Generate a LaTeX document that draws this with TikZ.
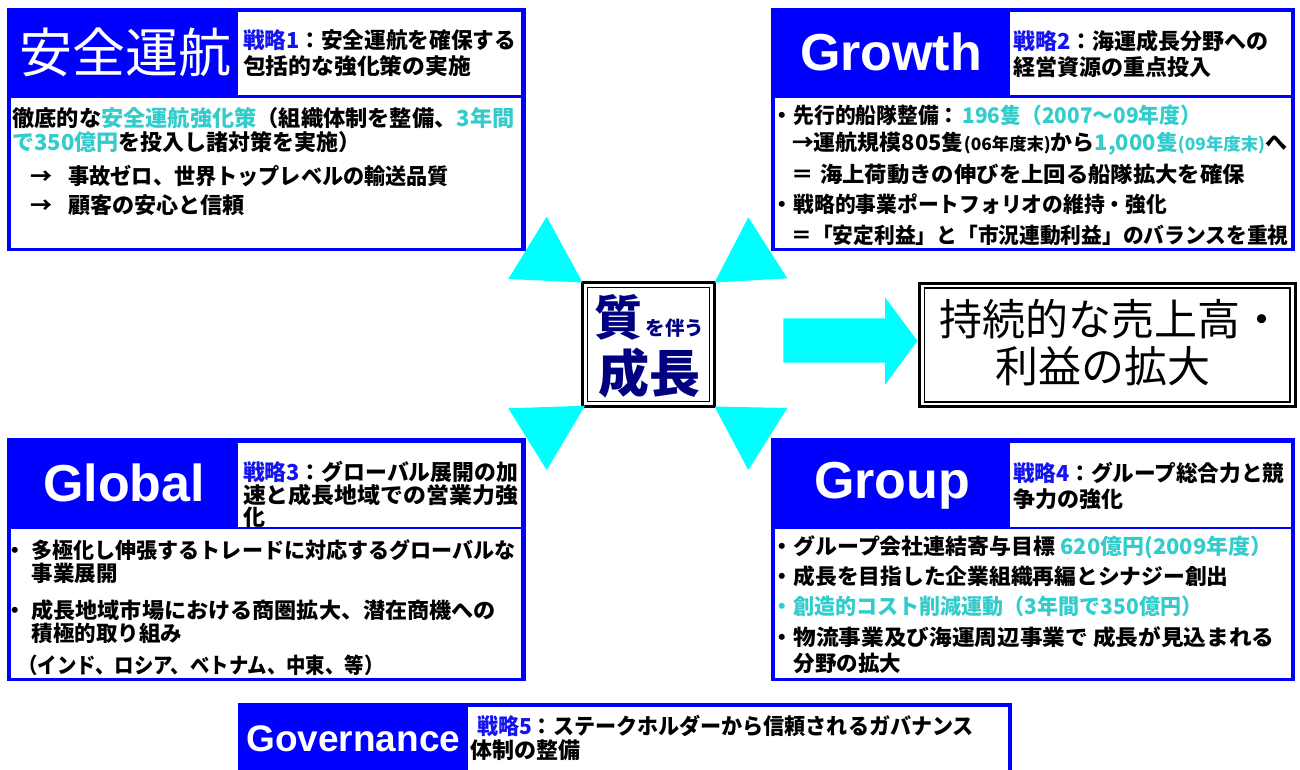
\documentclass[tikz,border=0pt]{standalone}
\usepackage{fontspec}
\usepackage{graphicx}
\setmainfont{Noto Sans CJK JP}
\newfontfamily\arialf{Liberation Sans}
\newcommand\fs[1]{\fontsize{#1bp}{#1bp}\selectfont}
\newcommand\fw[2]{\resizebox{#1bp}{\height}{#2}}
\definecolor{mblue}{RGB}{0,0,255}
\definecolor{cyt}{RGB}{51,204,204}
\definecolor{slbl}{RGB}{20,20,240}
\definecolor{navyt}{RGB}{0,0,128}
\definecolor{tricol}{RGB}{0,255,255}
\newcommand\cy[1]{{\color{cyt}#1}}
\newcommand\slb[1]{{\color{slbl}#1}}
\begin{document}
\begin{tikzpicture}[x=1bp,y=-1bp,
  panel/.style={inner sep=0pt,outer sep=0pt,anchor=north west,draw=none},
  bluepanel/.style={panel,fill=mblue},
  whitepanel/.style={panel,fill=white},
  txt/.style={inner sep=0pt,outer sep=0pt,anchor=base west,font=\bfseries\fs{21.5},text height=17bp,text depth=3bp},
  stxt/.style={txt,font=\bfseries\fs{22}},
  sblock/.style={inner sep=0pt,outer sep=0pt,anchor=north west,align=left,font=\bfseries\fontsize{22bp}{26bp}\selectfont},
  head/.style={inner sep=0pt,outer sep=0pt,anchor=base,text=white,font=\arialf\bfseries\fs{52}},
  tri/.style={fill=tricol,draw=none},
  dframe/.style={draw=black,line width=3bp,inner sep=0pt,outer sep=0pt},
  ctxt/.style={inner sep=0pt,outer sep=0pt,anchor=base,text=navyt,font=\bfseries},
  rtxt/.style={inner sep=0pt,outer sep=0pt,anchor=base west,text=black,font=\fs{43}}
]
\useasboundingbox[fill=white] (0,0) rectangle (1300,769);

% ---------- Box 1 : 安全運航 ----------
\node[bluepanel,minimum width=519bp,minimum height=243bp] (b1) at (7,8) {};
\node[whitepanel,minimum width=283bp,minimum height=83bp] (b1s) at (238,12) {};
\node[whitepanel,minimum width=510bp,minimum height=150bp] (b1b) at (11,98) {};
\node[inner sep=0pt,anchor=base,text=white,font=\fs{53}] (h1) at (125.5,72.5) {安全運航};
\node[stxt] (s1a) at (243,49) {\fw{273}{\slb{戦略1}：安全運航を確保する}};
\node[stxt] (s1b) at (243,74.5) {\fw{228}{包括的な強化策の実施}};
\node[stxt] (b1l1) at (12.5,126) {\fw{502}{徹底的な\cy{安全運航強化策}（組織体制を整備、\cy{3年間}}};
\node[stxt] (b1l2) at (12.5,150) {\cy{で350億円}を投入し諸対策を実施）};
\node[stxt] (b1l3) at (30,184) {\makebox[38.5bp][l]{→}\fw{380.5}{事故ゼロ、世界トップレベルの輸送品質}};
\node[stxt] (b1l4) at (30,213) {\makebox[38.5bp][l]{→}\fw{176.5}{顧客の安心と信頼}};

% ---------- Box 2 : Growth ----------
\node[bluepanel,minimum width=524bp,minimum height=243bp] (b2) at (771,8) {};
\node[whitepanel,minimum width=281bp,minimum height=83bp] (b2s) at (1010,12) {};
\node[whitepanel,minimum width=516bp,minimum height=150bp] (b2b) at (775,98) {};
\node[head] (h2) at (891,70.5) {Growth};
\node[sblock] (s2) at (1013,30.5) {\slb{戦略2}：海運成長分野への\\経営資源の重点投入};
\node[txt] (g1) at (771,123) {\makebox[22.5bp][l]{・}\fw{407.5}{先行的船隊整備：\hspace{3bp}\cy{196隻（2007～09年度）}}};
\node[txt] (g2) at (792,150.5) {\fw{495}{→運航規模805隻{\fs{17}(06年度末)}から\cy{1,000隻{\fs{17}(09年度末)}}へ}};
\node[txt] (g3) at (791.5,182) {\fw{453.5}{＝\hspace{6bp}海上荷動きの伸びを上回る船隊拡大を確保}};
\node[txt] (g4) at (771,212) {\makebox[22.5bp][l]{・}\fw{373.5}{戦略的事業ポートフォリオの維持・強化}};
\node[txt] (g5) at (791.5,243) {\fw{497}{＝「安定利益」と「市況連動利益」のバランスを重視}};

% ---------- Box 3 : Global ----------
\node[bluepanel,minimum width=519bp,minimum height=243bp] (b3) at (7,438) {};
\node[whitepanel,minimum width=283bp,minimum height=84bp] (b3s) at (238,443) {};
\node[whitepanel,minimum width=510bp,minimum height=149bp] (b3b) at (11,529) {};
\node[head] (h3) at (124,501) {Global};
\node[stxt] (s3a) at (243,480) {\fw{275}{\slb{戦略3}：グローバル展開の加}};
\node[stxt] (s3b) at (243,503.5) {\fw{275}{速と成長地域での営業力強}};
\node[stxt] (s3c) at (243,525) {化};
\node[txt] (gl1) at (4,558) {\makebox[27.5bp][l]{・}\fw{484}{多極化し伸張するトレードに対応するグローバルな}};
\node[txt] (gl2) at (31.5,581) {事業展開};
\node[txt] (gl3) at (4,618) {\makebox[27.5bp][l]{・}\fw{464.5}{成長地域市場における商圏拡大、潜在商機への}};
\node[txt] (gl4) at (31.5,641) {積極的取り組み};
\node[txt] (gl5) at (18.5,673) {\fw{365}{（インド、ロシア、ベトナム、中東、等）}};

% ---------- Box 4 : Group ----------
\node[bluepanel,minimum width=524bp,minimum height=243bp] (b4) at (771,438) {};
\node[whitepanel,minimum width=281bp,minimum height=84bp] (b4s) at (1010,443) {};
\node[whitepanel,minimum width=516bp,minimum height=149bp] (b4b) at (775,529) {};
\node[head] (h4) at (892,498) {Group};
\node[stxt] (s4a) at (1013,481) {\fw{271.5}{\slb{戦略4}：グループ総合力と競}};
\node[stxt] (s4b) at (1013,507.5) {争力の強化};
\node[txt] (gr1) at (771,554) {\makebox[22.5bp][l]{・}\fw{479}{グループ会社連結寄与目標\hspace{5bp}\cy{620億円(2009年度）}}};
\node[txt] (gr2) at (771,584) {\makebox[22.5bp][l]{・}\fw{435}{成長を目指した企業組織再編とシナジー創出}};
\node[txt,text=cyt] (gr3) at (771,614) {\makebox[22.5bp][l]{・}\fw{409}{創造的コスト削減運動（3年間で350億円）}};
\node[txt] (gr4) at (771,645) {\makebox[22.5bp][l]{・}\fw{481}{物流事業及び海運周辺事業で\hspace{5bp}成長が見込まれる}};
\node[txt] (gr5) at (793.5,671) {分野の拡大};

% ---------- Box 5 : Governance ----------
\node[bluepanel,minimum width=774bp,minimum height=70bp] (b5) at (238,703) {};
\node[whitepanel,minimum width=540bp,minimum height=66bp] (b5s) at (468,707) {};
\node[head,font=\arialf\bfseries\fs{37}] (h5) at (353.3,751) {Governance};
\node[stxt] (s5a) at (477,734) {\fw{497}{\slb{戦略5}：ステークホルダーから信頼されるガバナンス}};
\node[stxt] (s5b) at (470,758.5) {体制の整備};

% ---------- Centre box ----------
\node[dframe,minimum width=132bp,minimum height=124bp] (cbox) at (648.5,344.5) {};
\draw[line width=1.8bp] ([shift={(5,5)}]cbox.north west) rectangle ([shift={(-5,-5)}]cbox.south east);
\node[ctxt,font=\bfseries\fs{48}] (c1) at (618.3,335) {質};
\node[ctxt,font=\bfseries\fs{19.5}] (c2) at (675,335.4) {を伴う};
\node[ctxt,font=\bfseries\fs{51}] (c3) at (649,392.7) {成長};

% ---------- Result box ----------
\node[dframe,minimum width=375.5bp,minimum height=123.7bp] (rbox) at (1107.25,344.85) {};
\draw[line width=1.8bp] ([shift={(5,5)}]rbox.north west) rectangle ([shift={(-5,-5)}]rbox.south east);
\node[rtxt] (r1) at (939,335) {持続的な売上高・};
\node[rtxt] (r2) at (995,382) {利益の拡大};

% ---------- Triangles and arrow ----------
\fill[tri] (508.3,279) -- (cbox.north west) -- (546.7,216.7) -- cycle;
\fill[tri] (cbox.north east) -- (787.3,278.3) -- (748.3,217.3) -- cycle;
\fill[tri] (508.3,408.3) -- (585,405.7) -- (546.7,470) -- cycle;
\fill[tri] (cbox.south east) -- (787.3,408) -- (748.3,470) -- cycle;
\fill[tri] (783.3,318.3) -- (885,318.3) -- (885,297.3) -- (917.3,340.7) -- (885,385) -- (885,362.7) -- (783.3,362.7) -- cycle;
\end{tikzpicture}
\end{document}
